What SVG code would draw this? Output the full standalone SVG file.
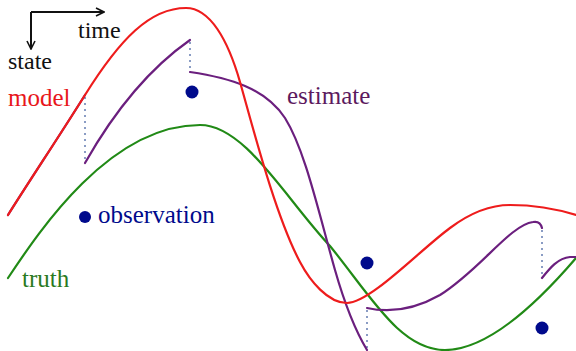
<svg xmlns="http://www.w3.org/2000/svg" width="576" height="351" viewBox="0 0 576 351">
<style>
.t{font-family:'Liberation Serif','Times New Roman',Times,serif;font-size:25px}
.c{fill:none;stroke-width:2.2;stroke-linecap:round;stroke-linejoin:round}
.red{stroke:#ee1c1c}.pur{stroke:#6b1f7e}.grn{stroke:#218a16}
.dot{fill:none;stroke:#8a9cc4;stroke-width:2;stroke-dasharray:2 4}
.obs{fill:#000a8c}
.ax{fill:none;stroke:#111;stroke-width:2}
</style>
<defs>
<marker id="ah" viewBox="0 0 10 10" refX="9" refY="5" markerWidth="10" markerHeight="10" markerUnits="userSpaceOnUse" orient="auto">
<path d="M1,1 L9,5 L1,9" fill="none" stroke="#111" stroke-width="1.6"/>
</marker>
</defs>
<g id="axes">
<path class="ax" d="M31,12 H104" marker-end="url(#ah)"/>
<path class="ax" d="M31,12 V49" marker-end="url(#ah)"/>
<text class="t" x="78" y="38" font-family="Liberation Serif, serif" style="font-size:24px" fill="#111">time</text>
<text class="t" x="8" y="69" font-family="Liberation Serif, serif" style="font-size:24px" fill="#111">state</text>
</g>
<g id="connectors">
<path class="dot" d="M85,97 V161"/>
<path class="dot" d="M190,42 V70"/>
<path class="dot" d="M367,348 V310"/>
<path class="dot" d="M542,230 V276"/>
</g>
<g id="truth">
<path class="c grn" d="M8,278 C40,230 110,125 200,125 C245,125 285,198 330,246 C370,295 400,350 445,350 C490,350 540,300 576,258"/>
<text class="t" x="22" y="287" font-family="Liberation Serif, serif" fill="#2a7a1e">truth</text>
</g>
<g id="estimate">
<path class="c pur" d="M8,215 C30,180 60,135 85,95"/>
<path class="c pur" d="M85,163 C115,110 150,68 190,40"/>
<path class="c pur" d="M190,72 C230,78 265,88 285,118 C305,150 318,210 335,270 C345,305 355,330 367,350"/>
<path class="c pur" d="M367,308 C385,312 410,312 440,295 C480,270 510,225 533,222 C538,221 541,224 542,228"/>
<path class="c pur" d="M542,278 C550,268 558,258 570,257 L576,257"/>
<text class="t" x="287" y="104" font-family="Liberation Serif, serif" fill="#5c1a5e">estimate</text>
</g>
<g id="model">
<path class="c red" d="M8,215 C30,180 60,135 85,95 C120,39 150,8 186,8 C210,8 228,40 240,82 C252,124 275,215 300,262 C310,281 328,303 347,303 C370,303 420,250 450,228 C470,213 490,205 510,205 C540,205 560,210 576,215"/>
<text class="t" x="8" y="106" font-family="Liberation Serif, serif" fill="#e8161b">model</text>
</g>
<g id="observation">
<circle class="obs" cx="85" cy="217" r="6"/>
<text class="t" x="98" y="223" font-family="Liberation Serif, serif" fill="#000a8c">observation</text>
<circle class="obs" cx="192" cy="92" r="6.5"/>
<circle class="obs" cx="367" cy="263" r="6.5"/>
<circle class="obs" cx="542" cy="328" r="6.5"/>
</g>
</svg>
